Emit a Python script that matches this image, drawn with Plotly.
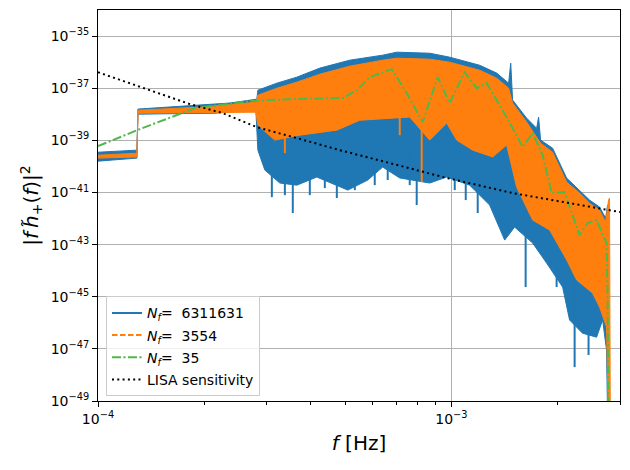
import plotly.graph_objects as go

# ---------------- data ----------------
# N_f = 6311631 : envelope of the dense blue curve
blue_top_f = [1.0e-4, 1.289e-4, 1.297e-4, 1.598e-4, 1.943e-4, 2.362e-4, 2.815e-4, 2.834e-4,
              3.207e-4, 3.652e-4, 4.244e-4, 5.159e-4, 6.393e-4, 7.004e-4, 8.682e-4, 9.889e-4,
              1.202e-3, 1.343e-3, 1.452e-3, 1.472e-3, 1.490e-3, 1.633e-3, 1.743e-3, 1.765e-3,
              1.788e-3, 1.934e-3, 2.118e-3, 2.305e-3, 2.460e-3, 2.626e-3, 2.731e-3, 2.767e-3, 2.784e-3]
blue_top = [3.5e-40, 4.2e-40, 1.58e-38, 1.87e-38, 2.24e-38, 2.7e-38, 3.8e-38, 8.4e-38,
            1.56e-37, 2.65e-37, 5.9e-37, 1.19e-36, 1.85e-36, 2.41e-36, 2.20e-36, 1.55e-36,
            7.6e-37, 3.8e-37, 1.56e-37, 9.1e-37, 3.5e-38, 7.1e-39, 2.9e-39, 7.8e-39,
            1.02e-39, 5.0e-40, 3.6e-41, 1.23e-41, 5.1e-42, 2.75e-42, 1.04e-42, 3.3e-42, 1e-52]
blue_bot_f = [1.0e-4, 1.289e-4, 1.297e-4, 1.598e-4, 2.142e-4, 2.797e-4, 2.834e-4, 2.966e-4,
              3.270e-4, 3.652e-4, 4.161e-4, 5.092e-4, 5.800e-4, 6.393e-4, 7.142e-4, 8.682e-4,
              9.698e-4, 1.126e-3, 1.283e-3, 1.415e-3, 1.510e-3, 1.698e-3, 1.860e-3, 2.064e-3,
              2.160e-3, 2.350e-3, 2.575e-3, 2.679e-3, 2.748e-3, 2.784e-3]
blue_bot = [1.59e-40, 2.08e-40, 1.01e-38, 1.01e-38, 1.10e-38, 1.44e-38, 4.2e-40, 7.2e-41,
            2.3e-41, 1.91e-41, 3.9e-41, 1.23e-41, 3.0e-41, 9.4e-41, 3.6e-41, 2.3e-41,
            3.9e-41, 1.91e-41, 3.3e-42, 1.49e-43, 4.7e-43, 1.15e-43, 1.95e-44, 2.35e-45,
            1.28e-46, 4.0e-47, 2.8e-47, 1.28e-46, 9.1e-48, 1e-52]
# downward spikes of the blue curve
blue_spike_f = [3.104e-4, 3.379e-4, 3.558e-4, 3.975e-4, 4.384e-4, 4.740e-4, 5.330e-4, 6.069e-4,
                6.604e-4, 7.622e-4, 7.977e-4, 1.022e-3, 1.098e-3, 1.187e-3, 1.334e-3, 1.387e-3,
                1.622e-3, 1.985e-3, 2.232e-3, 2.444e-3]
blue_spike_lo = [6.6e-42, 7.9e-42, 1.62e-42, 7.9e-42, 1.47e-41, 6.1e-42, 1.23e-41, 1.91e-41,
                 3.0e-41, 1.91e-41, 3.3e-42, 1.23e-41, 5.1e-42, 1.62e-42, 2.1e-42, 6.7e-43,
                 2.35e-45, 2.35e-45, 2.0e-48, 5.8e-48]
blue_spike_hi = [4.2e-40, 4.2e-40, 4.2e-40, 4.2e-40, 4.2e-40, 4.2e-40, 4.2e-40, 4.2e-40,
                 4.2e-40, 4.2e-40, 1.74e-40, 1.74e-40, 1.74e-40, 7.2e-41, 3.0e-41, 1.23e-41,
                 5.1e-42, 3.6e-43, 4.4e-45, 7.5e-46]

# N_f = 3554 : envelope of the orange curve
orange_top_f = [1.0e-4, 1.289e-4, 1.297e-4, 1.943e-4, 2.797e-4, 2.834e-4, 3.207e-4, 3.652e-4,
                4.244e-4, 5.159e-4, 6.393e-4, 7.004e-4, 8.682e-4, 9.889e-4, 1.202e-3, 1.343e-3,
                1.452e-3, 1.490e-3, 1.633e-3, 1.788e-3, 1.934e-3, 2.118e-3, 2.305e-3, 2.460e-3,
                2.626e-3, 2.731e-3, 2.784e-3, 2.802e-3, 2.820e-3]
orange_top = [2.7e-40, 3.2e-40, 1.44e-38, 1.87e-38, 2.9e-38, 5.4e-38, 1.0e-37, 1.71e-37,
              3.45e-37, 7.0e-37, 1.19e-36, 1.42e-36, 1.30e-36, 9.95e-37, 4.9e-37, 2.43e-37,
              1.0e-37, 2.7e-38, 5.0e-39, 7.8e-40, 3.5e-40, 2.5e-41, 9.5e-42, 3.9e-42,
              2.1e-42, 7.3e-43, 5.1e-42, 6.1e-42, 1e-52]
orange_bot_f = [1.0e-4, 1.289e-4, 1.297e-4, 2.797e-4, 2.834e-4, 3.165e-4, 3.726e-4, 4.740e-4,
                5.506e-4, 7.622e-4, 8.682e-4, 9.698e-4, 1.035e-3, 1.149e-3, 1.309e-3, 1.433e-3,
                1.530e-3, 1.698e-3, 1.897e-3, 2.118e-3, 2.261e-3, 2.508e-3, 2.626e-3, 2.748e-3,
                2.802e-3, 2.820e-3]
orange_bot = [2.08e-40, 2.3e-40, 1.10e-38, 1.20e-38, 3.8e-39, 1.02e-39, 1.58e-39, 2.46e-39,
              5.9e-39, 7.8e-39, 1.02e-39, 4.6e-39, 1.02e-39, 4.2e-40, 2.3e-40, 6.6e-40,
              1.6e-41, 8.7e-43, 3.6e-43, 2.6e-44, 4.4e-45, 1.38e-45, 4.0e-46, 6.9e-47,
              1e-52, 1e-52]
orange_spike_f = [3.379e-4, 7.142e-4, 8.241e-4]
orange_spike_lo = [3.2e-40, 1.58e-39, 2.5e-41]
orange_spike_hi = [2.46e-39, 9.3e-39, 5.9e-39]

# N_f = 35
green_f = [1.0e-4, 1.314e-4, 1.880e-4, 2.690e-4, 3.489e-4, 4.929e-4, 5.400e-4, 5.875e-4,
           6.779e-4, 7.474e-4, 8.295e-4, 9.147e-4, 9.889e-4, 1.090e-3, 1.179e-3, 1.258e-3,
           1.433e-3, 1.591e-3, 1.698e-3, 1.812e-3, 1.921e-3, 2.091e-3, 2.305e-3, 2.428e-3,
           2.575e-3, 2.748e-3, 2.767e-3, 2.784e-3]
green_h = [6.0e-40, 2.7e-39, 1.72e-38, 3.2e-38, 3.8e-38, 4.2e-38, 8.4e-38, 2.65e-37,
           5.4e-37, 6.5e-38, 5.0e-39, 2.65e-37, 2.7e-38, 4.1e-37, 1.0e-37, 1.56e-37,
           7.8e-39, 5.5e-40, 1.9e-39, 2.7e-40, 9.5e-42, 1.03e-41, 2.3e-43, 6.7e-43,
           8.7e-43, 1.15e-43, 9.7e-46, 1e-52]

# LISA sensitivity
lisa_f = [1.0e-4, 1.314e-4, 1.820e-4, 2.257e-4, 2.815e-4, 3.489e-4, 4.834e-4, 6.692e-4,
          9.698e-4, 1.490e-3, 2.305e-3, 3.0e-3]
lisa_s = [4.1e-37, 1.10e-37, 2.45e-38, 1.10e-38, 3.2e-39, 1.45e-39, 4.2e-40, 1.34e-40,
          3.6e-41, 9.5e-42, 3.3e-42, 1.77e-42]

legend_names = ["<i>N</i><sub><i>f</i></sub>=  6311631", "<i>N</i><sub><i>f</i></sub>=  3554",
                "<i>N</i><sub><i>f</i></sub>=  35", "LISA sensitivity"]
y_tick_exps = [-49, -47, -45, -43, -41, -39, -37, -35]
x_tick_exps = [-4, -3]

BLUE, ORANGE = "#1f77b4", "#ff7f0e"
GREEN_L = "#4fb848"


def band(xt, yt, xb, yb):
    return list(xt) + list(reversed(xb)), list(yt) + list(reversed(yb))


def segments(fs, lo, hi):
    xs, ys = [], []
    for f, a, b in zip(fs, lo, hi):
        xs += [f, f, None]
        ys += [a, b, None]
    return xs, ys


fig = go.Figure()

bx, by = band(blue_top_f, blue_top, blue_bot_f, blue_bot)
fig.add_trace(go.Scatter(x=bx, y=by, mode="lines", fill="toself", fillcolor=BLUE,
                         line=dict(color=BLUE, width=1), showlegend=False, hoverinfo="skip"))
sx, sy = segments(blue_spike_f, blue_spike_lo, blue_spike_hi)
fig.add_trace(go.Scatter(x=sx, y=sy, mode="lines", line=dict(color=BLUE, width=2),
                         showlegend=False, hoverinfo="skip"))

ox, oy = band(orange_top_f, orange_top, orange_bot_f, orange_bot)
fig.add_trace(go.Scatter(x=ox, y=oy, mode="lines", fill="toself", fillcolor=ORANGE,
                         line=dict(color=ORANGE, width=1), showlegend=False, hoverinfo="skip"))
sx, sy = segments(orange_spike_f, orange_spike_lo, orange_spike_hi)
fig.add_trace(go.Scatter(x=sx, y=sy, mode="lines", line=dict(color=ORANGE, width=2),
                         showlegend=False, hoverinfo="skip"))

fig.add_trace(go.Scatter(x=green_f, y=green_h, mode="lines",
                         line=dict(color=GREEN_L, width=2, dash="9px,2.5px,2px,2.5px"),
                         showlegend=False, hoverinfo="skip"))
fig.add_trace(go.Scatter(x=lisa_f, y=lisa_s, mode="lines",
                         line=dict(color="black", width=2, dash="2px,3.3px"),
                         showlegend=False, hoverinfo="skip"))

# legend entries
styles = [dict(color=BLUE, width=2), dict(color=ORANGE, width=2, dash="5.5px,2.5px"),
          dict(color=GREEN_L, width=2, dash="9px,2.5px,2px,2.5px"),
          dict(color="black", width=2, dash="2px,3.3px")]
for i, (name, st) in enumerate(zip(legend_names, styles)):
    fig.add_trace(go.Scatter(x=[None], y=[None], mode="lines", name=name, line=st,
                             legendgroup=f"g{i}"))

# the page body adds an 8px offset; margins compensate so the plot box lands at
# x 98..620, y 10..401 of the window
fig.update_layout(
    width=630, height=470,
    margin=dict(l=90, r=18, t=2, b=77, autoexpand=False),
    plot_bgcolor="white", paper_bgcolor="white",
    font=dict(family="DejaVu Sans", size=14, color="black"),
    legend=dict(x=0.0153, y=0.012, xanchor="left", yanchor="bottom",
                bgcolor="rgba(255,255,255,0.8)", bordercolor="#cccccc", borderwidth=1,
                font=dict(size=14), tracegroupgap=1, traceorder="grouped",
                itemwidth=30),
)
fig.update_xaxes(
    type="log", range=[-4, -2.5229], automargin=False,
    tickvals=[10.0 ** e for e in x_tick_exps],
    ticktext=[f"10<sup>\u2212{-e}</sup>" for e in x_tick_exps],
    ticks="outside", ticklen=5, tickwidth=1, tickcolor="black",
    showgrid=True, gridcolor="#b0b0b0", gridwidth=0.8,
    showline=True, linecolor="black", linewidth=1, mirror=True, zeroline=False,
    minor=dict(tickvals=[2e-4, 3e-4, 4e-4, 5e-4, 6e-4, 7e-4, 8e-4, 9e-4, 2e-3, 3e-3],
               ticks="outside", ticklen=3, tickwidth=0.8, tickcolor="black", showgrid=False),
    title=dict(text="<i>f</i> [Hz]", font=dict(size=20), standoff=10),
)
fig.update_yaxes(
    type="log", range=[-49, -34], automargin=False,
    tickvals=[10.0 ** e for e in y_tick_exps],
    ticktext=[f"10<sup>\u2212{-e}</sup>" for e in y_tick_exps],
    ticks="outside", ticklen=5, tickwidth=1, tickcolor="black",
    showgrid=True, gridcolor="#b0b0b0", gridwidth=0.8,
    showline=True, linecolor="black", linewidth=1, mirror=True, zeroline=False,
    title=dict(text="|<i>f</i>\u2009<i>h\u0303</i><sub>+</sub>(<i>f</i>)|<sup>2</sup>",
               font=dict(size=20), standoff=6),
)

fig.write_html("out.html")
